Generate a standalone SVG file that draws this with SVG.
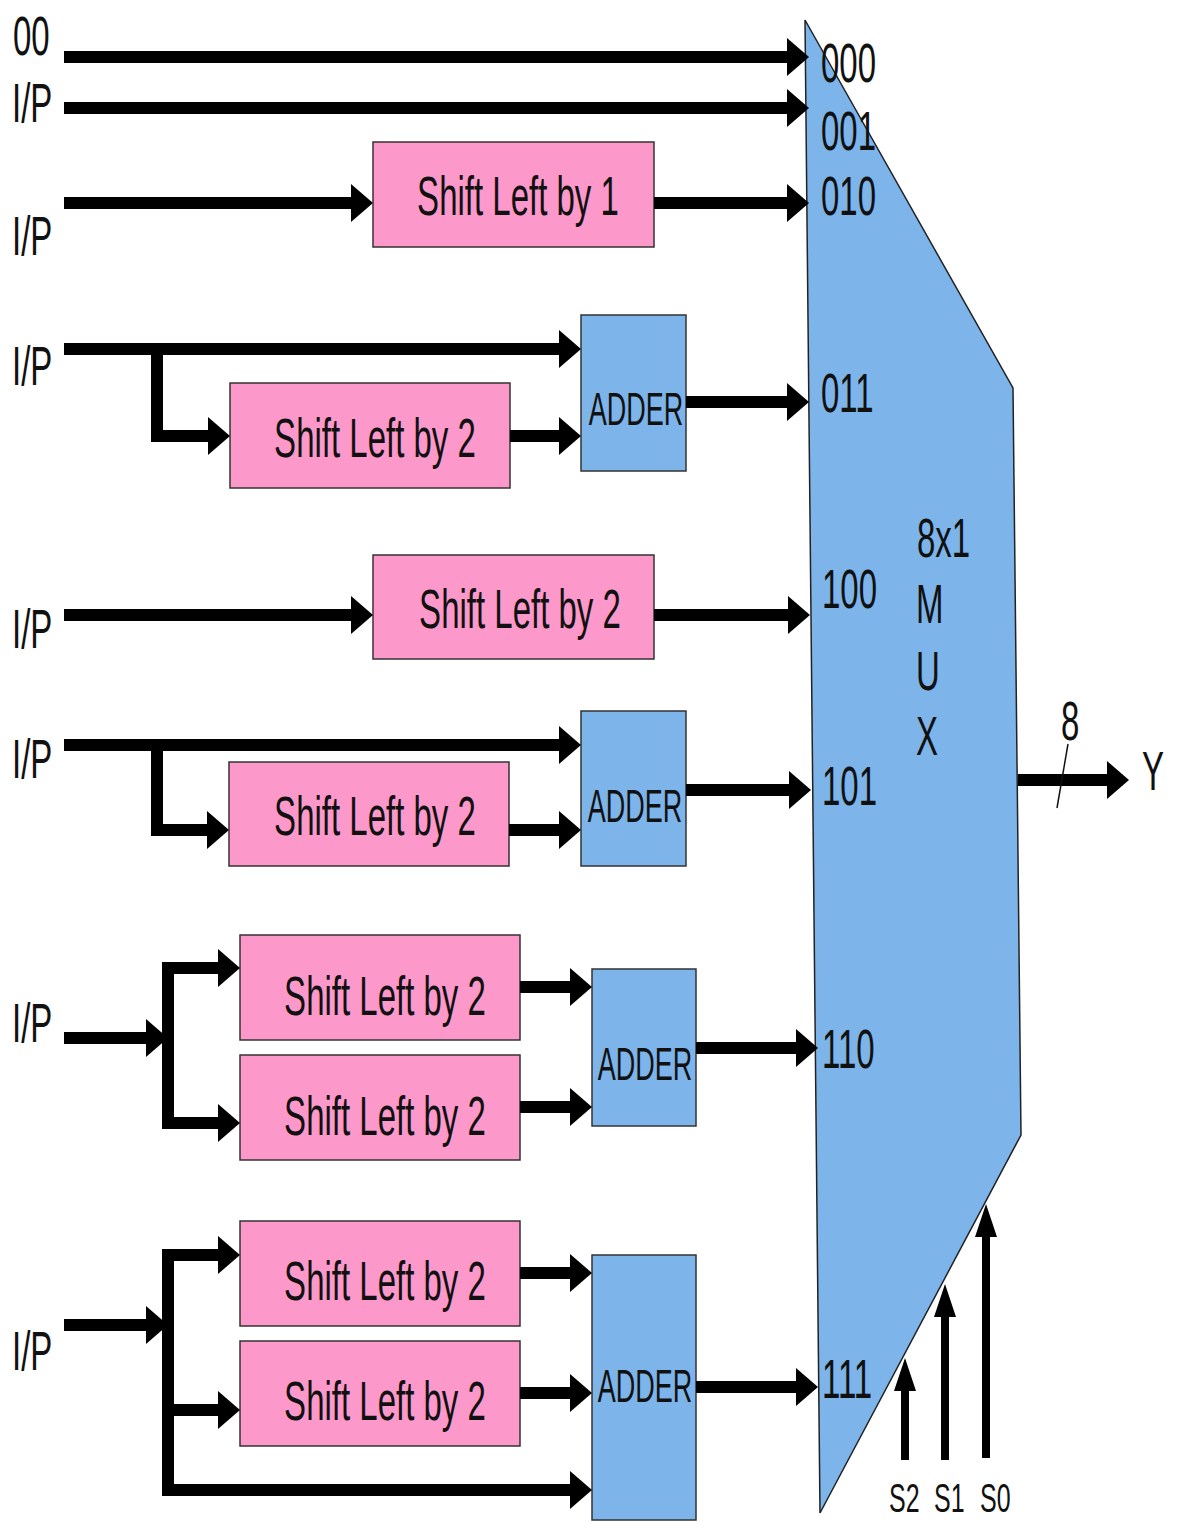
<svg xmlns="http://www.w3.org/2000/svg" width="1177" height="1522" viewBox="0 0 1177 1522">
  <style>
    text { font-family: "Liberation Sans", Arial, sans-serif; fill: #111; }
    .lbl { font-size: 33px; }
    .adder-t { font-size: 27px; }
    .sel-t { font-size: 25px; }
    .shift { fill: #fd99ca; stroke: #333; stroke-width: 1.5; }
    .adder { fill: #7db4ea; stroke: #333; stroke-width: 1.5; }
    .mux { fill: #7db4ea; stroke: #222; stroke-width: 1.5; }
    .wire { fill: none; stroke: #000; stroke-width: 12; stroke-linejoin: miter; marker-end: url(#ah); }
    .bus { fill: none; stroke: #000; stroke-width: 12; stroke-linejoin: miter; }
    .sel { fill: none; stroke: #000; stroke-width: 8; marker-end: url(#ahs); }
  </style>
  <defs>
    <marker id="ah" markerUnits="userSpaceOnUse" viewBox="0 0 22 38" markerWidth="22" markerHeight="38" refX="0" refY="19" orient="auto">
      <path d="M0,0 L22,19 L0,38 z" fill="#000"/>
    </marker>
    <marker id="ahs" markerUnits="userSpaceOnUse" viewBox="0 0 33 22" markerWidth="33" markerHeight="22" refX="0" refY="11" orient="auto">
      <path d="M0,0 L33,11 L0,22 z" fill="#000"/>
    </marker>
  </defs>
  <rect width="1177" height="1522" fill="#fff"/>

  <!-- 8x1 multiplexer -->
  <g id="mux">
    <polygon class="mux" points="805,20 1013,388 1021,1135 820,1513"/>
    <text class="lbl" transform="translate(917,557) scale(1,1.7)">8x1</text>
    <text class="lbl" transform="translate(916,623) scale(1,1.7)">M</text>
    <text class="lbl" transform="translate(916,690) scale(1,1.7)">U</text>
    <text class="lbl" transform="translate(916,755) scale(1,1.7)">X</text>
    <text class="lbl" transform="translate(821,82) scale(1,1.7)">000</text>
    <text class="lbl" transform="translate(821,150) scale(1,1.7)">001</text>
    <text class="lbl" transform="translate(821,215) scale(1,1.7)">010</text>
    <text class="lbl" transform="translate(821,412) scale(1,1.7)">011</text>
    <text class="lbl" transform="translate(822,608) scale(1,1.7)">100</text>
    <text class="lbl" transform="translate(822,805) scale(1,1.7)">101</text>
    <text class="lbl" transform="translate(822,1068) scale(1,1.7)">110</text>
    <text class="lbl" transform="translate(822,1398) scale(1,1.7)">111</text>
  </g>

  <!-- input labels -->
  <g id="inputs">
    <text class="lbl" transform="translate(13,55) scale(1,1.7)">00</text>
    <text class="lbl" transform="translate(12,122) scale(1,1.7)">I/P</text>
    <text class="lbl" transform="translate(12,255) scale(1,1.7)">I/P</text>
    <text class="lbl" transform="translate(12,385) scale(1,1.7)">I/P</text>
    <text class="lbl" transform="translate(12,648) scale(1,1.7)">I/P</text>
    <text class="lbl" transform="translate(12,778) scale(1,1.7)">I/P</text>
    <text class="lbl" transform="translate(12,1042) scale(1,1.7)">I/P</text>
    <text class="lbl" transform="translate(12,1370) scale(1,1.7)">I/P</text>
  </g>

  <!-- shifters -->
  <g id="shl1-010">
    <rect class="shift" x="373" y="142" width="281" height="105"/>
    <text class="lbl" text-anchor="middle" transform="translate(518,215) scale(1,1.7)">Shift Left by 1</text>
  </g>
  <g id="shl2-011">
    <rect class="shift" x="230" y="383" width="280" height="105"/>
    <text class="lbl" text-anchor="middle" transform="translate(375,457) scale(1,1.7)">Shift Left by 2</text>
  </g>
  <g id="shl2-100">
    <rect class="shift" x="373" y="555" width="281" height="104"/>
    <text class="lbl" text-anchor="middle" transform="translate(520,628) scale(1,1.7)">Shift Left by 2</text>
  </g>
  <g id="shl2-101">
    <rect class="shift" x="229" y="762" width="280" height="104"/>
    <text class="lbl" text-anchor="middle" transform="translate(375,835) scale(1,1.7)">Shift Left by 2</text>
  </g>
  <g id="shl2-110a">
    <rect class="shift" x="240" y="935" width="280" height="105"/>
    <text class="lbl" text-anchor="middle" transform="translate(385,1015) scale(1,1.7)">Shift Left by 2</text>
  </g>
  <g id="shl2-110b">
    <rect class="shift" x="240" y="1055" width="280" height="105"/>
    <text class="lbl" text-anchor="middle" transform="translate(385,1135) scale(1,1.7)">Shift Left by 2</text>
  </g>
  <g id="shl2-111a">
    <rect class="shift" x="240" y="1221" width="280" height="105"/>
    <text class="lbl" text-anchor="middle" transform="translate(385,1300) scale(1,1.7)">Shift Left by 2</text>
  </g>
  <g id="shl2-111b">
    <rect class="shift" x="240" y="1341" width="280" height="105"/>
    <text class="lbl" text-anchor="middle" transform="translate(385,1420) scale(1,1.7)">Shift Left by 2</text>
  </g>

  <!-- adders -->
  <g id="adder-011">
    <rect class="adder" x="581" y="315" width="105" height="156"/>
    <text class="adder-t" text-anchor="middle" transform="translate(636,425) scale(1,1.7)">ADDER</text>
  </g>
  <g id="adder-101">
    <rect class="adder" x="581" y="711" width="105" height="155"/>
    <text class="adder-t" text-anchor="middle" transform="translate(635,822) scale(1,1.7)">ADDER</text>
  </g>
  <g id="adder-110">
    <rect class="adder" x="592" y="969" width="104" height="157"/>
    <text class="adder-t" text-anchor="middle" transform="translate(645,1080) scale(1,1.7)">ADDER</text>
  </g>
  <g id="adder-111">
    <rect class="adder" x="592" y="1255" width="104" height="265"/>
    <text class="adder-t" text-anchor="middle" transform="translate(645,1402) scale(1,1.7)">ADDER</text>
  </g>

  <!-- output and select labels -->
  <g id="output">
    <text class="lbl" transform="translate(1061,740) scale(1,1.7)">8</text>
    <text class="lbl" transform="translate(1142,790) scale(1,1.7)">Y</text>
  </g>
  <g id="selects">
    <text class="sel-t" transform="translate(889,1512) scale(1,1.65)">S2</text>
    <text class="sel-t" transform="translate(934,1512) scale(1,1.65)">S1</text>
    <text class="sel-t" transform="translate(980,1512) scale(1,1.65)">S0</text>
  </g>

  <!-- wiring -->
  <g id="connectors">
    <path class="wire" d="M64,57 H787"/>
    <path class="wire" d="M64,108 H787"/>

    <path class="wire" d="M64,203 H351"/>
    <path class="wire" d="M654,203 H787"/>

    <path class="wire" d="M64,349 H559"/>
    <path class="wire" d="M157,343 V436 H208"/>
    <path class="wire" d="M510,436 H559"/>
    <path class="wire" d="M686,402 H787"/>

    <path class="wire" d="M64,615 H351"/>
    <path class="wire" d="M654,615 H788"/>

    <path class="wire" d="M64,745 H559"/>
    <path class="wire" d="M157,739 V830 H207"/>
    <path class="wire" d="M509,830 H559"/>
    <path class="wire" d="M686,790 H789"/>

    <path class="wire" d="M64,1038 H146"/>
    <path class="bus" d="M168,968 V1123"/>
    <path class="wire" d="M162,968 H218"/>
    <path class="wire" d="M162,1123 H218"/>
    <path class="wire" d="M520,987 H570"/>
    <path class="wire" d="M520,1107 H570"/>
    <path class="wire" d="M696,1048 H796"/>

    <path class="wire" d="M64,1325 H146"/>
    <path class="bus" d="M168,1255 V1490"/>
    <path class="wire" d="M162,1255 H218"/>
    <path class="wire" d="M162,1410 H218"/>
    <path class="wire" d="M162,1490 H570"/>
    <path class="wire" d="M520,1273 H570"/>
    <path class="wire" d="M520,1393 H570"/>
    <path class="wire" d="M696,1387 H796"/>

    <path class="wire" d="M1018,780 H1107"/>
    <line x1="1057" y1="808" x2="1068" y2="744" stroke="#111" stroke-width="1.5"/>

    <path class="sel" d="M905,1460 V1391"/>
    <path class="sel" d="M945,1460 V1317"/>
    <path class="sel" d="M986,1458 V1237"/>
  </g>
</svg>
